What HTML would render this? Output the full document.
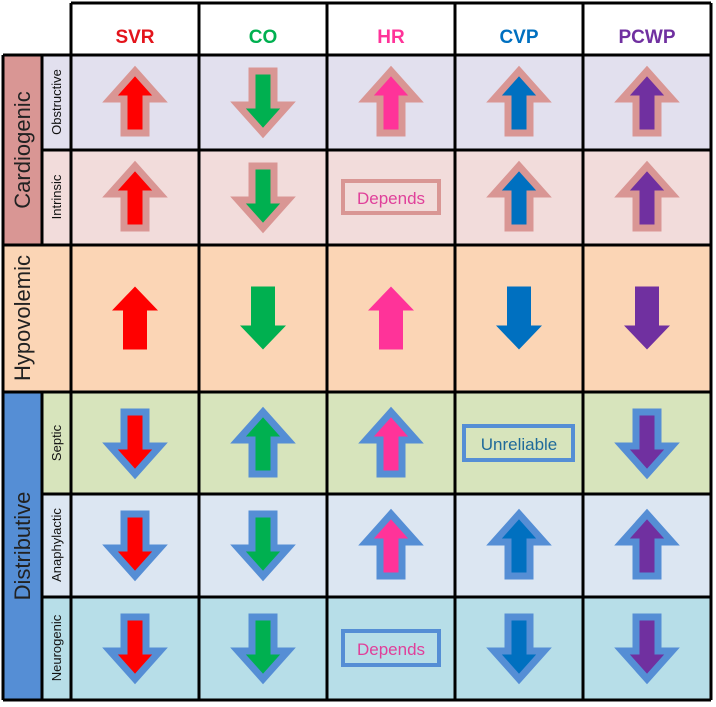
<!DOCTYPE html>
<html><head><meta charset="utf-8"><style>
html,body{margin:0;padding:0;background:#fff;}
svg{display:block;font-family:"Liberation Sans",sans-serif;}
</style></head><body>
<svg width="716" height="707" viewBox="0 0 716 707" xmlns="http://www.w3.org/2000/svg">
<!-- row backgrounds -->
<rect x="71" y="3" width="640" height="52" fill="#fff"/>
<rect x="42" y="55" width="669" height="95" fill="#e2e0ee"/>
<rect x="42" y="150" width="669" height="95" fill="#f2dcdb"/>
<rect x="3" y="245" width="708" height="147" fill="#fbd5b5"/>
<rect x="42" y="392" width="669" height="102" fill="#d7e4bc"/>
<rect x="42" y="494" width="669" height="103" fill="#dce6f2"/>
<rect x="42" y="597" width="669" height="103" fill="#b7dee8"/>
<rect x="3" y="55" width="39" height="190" fill="#d99694"/>
<rect x="3" y="392" width="39" height="308" fill="#558ed5"/>
<!-- grid -->
<g stroke="#000" stroke-width="3" fill="none">
<line x1="71" y1="3" x2="711" y2="3"/>
<line x1="3" y1="55" x2="711" y2="55"/>
<line x1="42" y1="150" x2="711" y2="150"/>
<line x1="3" y1="245" x2="711" y2="245"/>
<line x1="3" y1="392" x2="711" y2="392"/>
<line x1="42" y1="494" x2="711" y2="494"/>
<line x1="42" y1="597" x2="711" y2="597"/>
<line x1="3" y1="700" x2="711" y2="700"/>
<line x1="3" y1="55" x2="3" y2="700"/>
<line x1="42" y1="55" x2="42" y2="245"/>
<line x1="42" y1="392" x2="42" y2="700"/>
<line x1="71" y1="3" x2="71" y2="700"/>
<line x1="199" y1="3" x2="199" y2="700"/>
<line x1="327" y1="3" x2="327" y2="700"/>
<line x1="455" y1="3" x2="455" y2="700"/>
<line x1="583" y1="3" x2="583" y2="700"/>
<line x1="711" y1="3" x2="711" y2="700"/>
</g>
<!-- headers -->
<g font-weight="bold" font-size="19" text-anchor="middle">
<text x="135" y="43" fill="#e3141b">SVR</text>
<text x="263" y="43" fill="#00b050">CO</text>
<text x="391" y="43" fill="#ff3399">HR</text>
<text x="519" y="43" fill="#0070c0">CVP</text>
<text x="647" y="43" fill="#7030a0">PCWP</text>
</g>
<!-- side labels -->
<g font-size="22" text-anchor="middle" fill="#222">
<text transform="translate(30,150) rotate(-90)">Cardiogenic</text>
<text transform="translate(30,318) rotate(-90)">Hypovolemic</text>
<text transform="translate(30,546) rotate(-90)">Distributive</text>
</g>
<g font-size="13" text-anchor="middle" fill="#111">
<text transform="translate(61,102) rotate(-90)">Obstructive</text>
<text transform="translate(61,197) rotate(-90)">Intrinsic</text>
<text transform="translate(61,443) rotate(-90)">Septic</text>
<text transform="translate(61,545) rotate(-90)">Anaphylactic</text>
<text transform="translate(61,648) rotate(-90)">Neurogenic</text>
</g>
<!-- boxes -->
<rect x="343" y="181" width="96" height="32" fill="none" stroke="#d99694" stroke-width="4"/>
<text x="391" y="204" font-size="17" text-anchor="middle" fill="#e0409a">Depends</text>
<rect x="464" y="426" width="109" height="34" fill="none" stroke="#558ed5" stroke-width="4"/>
<text x="519" y="450" font-size="17" text-anchor="middle" fill="#1f6a9a">Unreliable</text>
<rect x="343" y="631" width="96" height="34" fill="none" stroke="#558ed5" stroke-width="4"/>
<text x="391" y="655" font-size="17" text-anchor="middle" fill="#e0409a">Depends</text>
<g id="arrows"></g>
</svg>
<script>
(function(){
var g=document.getElementById('arrows');
var cols=[135,263,391,519,647];
var colr=['#ff0000','#00b050','#ff3399','#0070c0','#7030a0'];
function poly(cx,cy,up,hw,sw,h,hd){
 // arrow spanning cy-h/2..cy+h/2
 var t=cy-h/2,b=cy+h/2,pts;
 if(up){pts=[[cx,t],[cx+hw,t+hd],[cx+sw,t+hd],[cx+sw,b],[cx-sw,b],[cx-sw,t+hd],[cx-hw,t+hd]];}
 else{pts=[[cx,b],[cx+hw,b-hd],[cx+sw,b-hd],[cx+sw,t],[cx-sw,t],[cx-sw,b-hd],[cx-hw,b-hd]];}
 return pts.map(function(p){return p.join(',')}).join(' ');
}
function add(cx,cy,up,fill,stroke){
 var p=document.createElementNS('http://www.w3.org/2000/svg','polygon');
 if(stroke){
  p.setAttribute('points',poly(cx,cy,up,25,11,62,28));
  p.setAttribute('stroke',stroke);p.setAttribute('stroke-width','7');
  p.setAttribute('stroke-linejoin','miter');
 } else {
  p.setAttribute('points',poly(cx,cy,up,23,12,63,24));
 }
 p.setAttribute('fill',fill);g.appendChild(p);
}
var rows=[
 [102,'#d99694',[1,0,1,1,1]],
 [197,'#d99694',[1,0,null,1,1]],
 [318,null,[1,0,1,0,0]],
 [443,'#558ed5',[0,1,1,null,0]],
 [545,'#558ed5',[0,0,1,1,1]],
 [648,'#558ed5',[0,0,null,0,0]]
];
rows.forEach(function(r){r[2].forEach(function(d,i){if(d===null)return;add(cols[i],r[0],d===1,colr[i],r[1]);});});
})();
</script>
</body></html>
